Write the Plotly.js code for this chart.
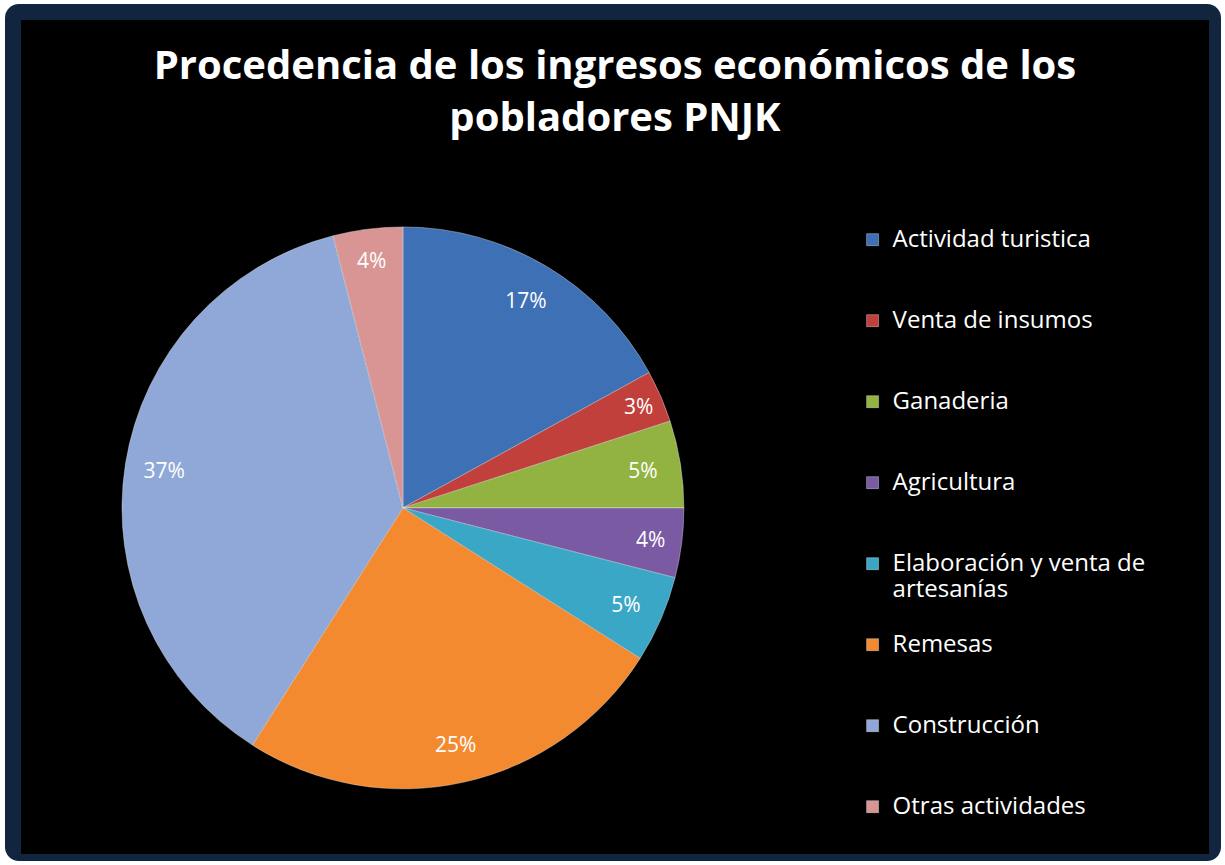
<!DOCTYPE html>
<html>
<head>
<meta charset="utf-8">
<script src="https://cdn.plot.ly/plotly-3.0.1.min.js"></script>
<style>
  html, body { margin:0; padding:0; background:#ffffff; width:1225px; height:865px; overflow:hidden; }
  #frame { position:absolute; left:5px; top:4px; width:1216px; height:857px; background:#11253f; border-radius:14px; }
  #chart { position:absolute; left:21px; top:20px; width:1188px; height:834px; background:#000; }
</style>
</head>
<body>
<div id="frame"></div>
<div id="chart"></div>
<script>
// ---- data ----
const categories = [
  "Actividad turistica",
  "Venta de insumos",
  "Ganaderia",
  "Agricultura",
  "Elaboración y venta de artesanías",
  "Remesas",
  "Construcción",
  "Otras actividades"
];
const values = [17, 3, 5, 4, 5, 25, 37, 4];
const colors = ["#3e70b5", "#c2403c", "#92b242", "#7a5aa3", "#3aa7c6", "#f38a30", "#8fa8d7", "#d99593"];
const titleText = "Procedencia de los ingresos económicos de los<br>pobladores PNJK";

// word-wrap legend labels and pad to equal height (uniform spacing like the reference)
function wrap(s, max, isLast) {
  const words = s.split(" "); const lines = []; let cur = "";
  words.forEach(w => {
    if (cur && (cur + " " + w).length > max) { lines.push(cur); cur = w; }
    else cur = cur ? cur + " " + w : w;
  });
  if (cur) lines.push(cur);
  const shown = lines.map(l => '<span style="font-size:24px">' + l + '</span>');
  if (!isLast) while (shown.length < 3) shown.push("\u00a0");
  return shown.join("<br>");
}
const legendLabels = categories.map((c, i) => wrap(c, 22, i === categories.length - 1));

const pieDomain = { x: [0.085, 0.558], y: [0.078, 0.752] };

const pieTrace = {
  type: "pie",
  labels: legendLabels,
  values: values,
  sort: false,
  direction: "clockwise",
  rotation: 0,
  marker: { colors: colors, line: { color: "rgba(255,255,255,0.35)", width: 1 } },
  textinfo: "none",
  hoverinfo: "skip",
  domain: pieDomain
};

// transparent ring carrying the percentage labels near the outer edge
const labelTrace = {
  type: "pie",
  labels: categories,
  values: values,
  sort: false,
  direction: "clockwise",
  rotation: 0,
  hole: 0.72,
  marker: { colors: categories.map(() => "rgba(0,0,0,0)"), line: { width: 0 } },
  texttemplate: "%{percent:.0%}",
  textposition: "inside",
  insidetextorientation: "horizontal",
  textfont: { family: "Open Sans", size: 21, color: "#ffffff" },
  hoverinfo: "skip",
  showlegend: false,
  domain: pieDomain
};

const layout = {
  width: 1188, height: 834,
  paper_bgcolor: "#000000",
  plot_bgcolor: "#000000",
  margin: { l: 0, r: 0, t: 0, b: 0 },
  title: {
    text: titleText,
    font: { family: "Open Sans", size: 40, color: "#ffffff", weight: "bold" },
    x: 0.5, xanchor: "center",
    y: 0.929, yref: "container", yanchor: "middle"
  },
  showlegend: true,
  legend: {
    x: 0.70, xanchor: "left",
    y: 0.76, yanchor: "top",
    valign: "top",
    font: { family: "Open Sans", size: 20, color: "#ffffff" },
    bgcolor: "rgba(0,0,0,0)"
  }
};

Plotly.newPlot("chart", [pieTrace, labelTrace], layout, { displayModeBar: false, staticPlot: true });
</script>
</body>
</html>
